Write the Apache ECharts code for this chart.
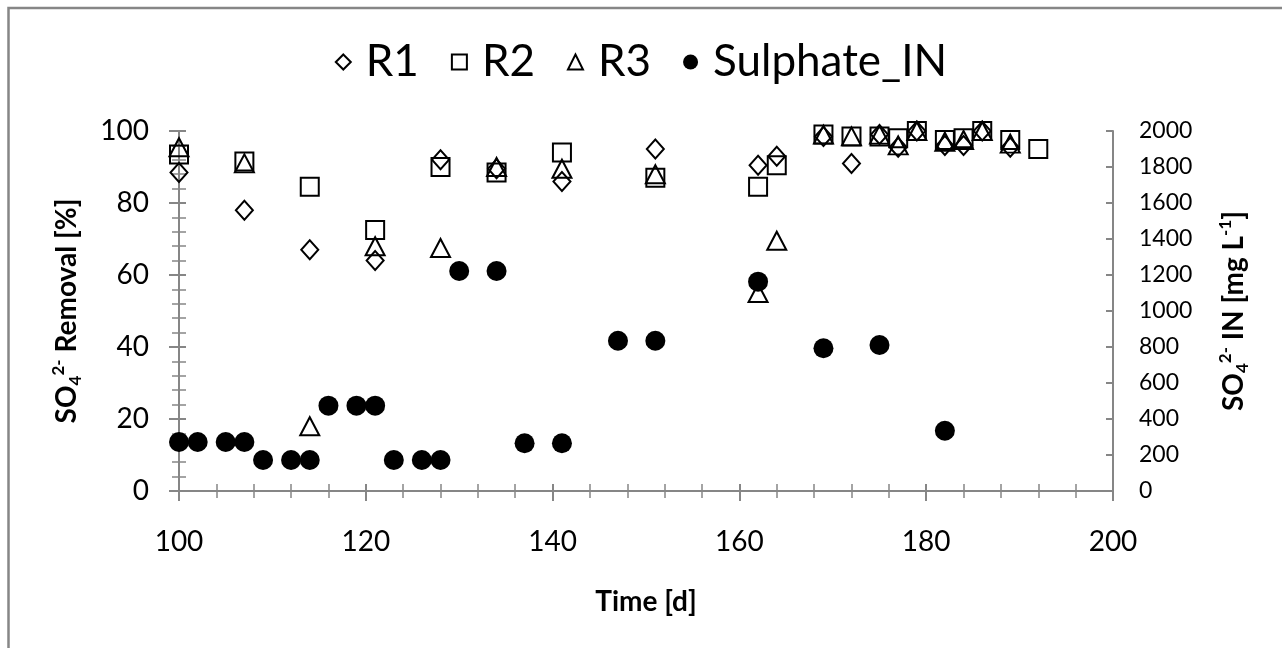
<!DOCTYPE html>
<html>
<head>
<meta charset="utf-8">
<script src="https://cdn.jsdelivr.net/npm/echarts@6/dist/echarts.min.js"></script>
<style>
html,body{margin:0;padding:0;background:#fff;}
#chart{width:1282px;height:648px;}
</style>
</head>
<body>
<div id="chart"></div>
<script>
// Reactor sampling days (R1, R3) and R2 (one extra day)
const daysR = [100,107,114,121,128,134,141,151,162,164,169,172,175,177,179,182,184,186,189];
const daysR2 = [100,107,114,121,128,134,141,151,162,164,169,172,175,177,179,182,184,186,189,192];
// SO4 removal [%]
const removalR1 = [88.5,78,67,64,92,89.5,86,95,90.5,93,98.5,91,99,95.5,100,96,96,100,95.5];
const removalR2 = [93.5,91.5,84.5,72.5,90,88.5,94,87,84.5,90.5,99,98.5,98.5,98,100,97.5,98,100,97.5,95];
const removalR3 = [95.5,91,18,68,67.5,90,89.5,88,55,69.5,99,98.5,99,96,100,97,97.5,100,96.5];
// Influent sulphate [mg/L]
const daysIN = [100,102,105,107,109,112,114,116,119,121,123,126,128,130,134,137,141,147,151,162,169,175,182];
const sulphateIN = [272,272,272,272,172,172,172,474,474,474,172,172,172,1222,1222,265,265,835,835,1163,793,811,335];

const seriesNames = ['R1','R2','R3','Sulphate_IN'];
const xTicks = {min:100, max:200, interval:20};
const yLeftTicks = {min:0, max:100, interval:20};
const yRightTicks = {min:0, max:2000, interval:200};

function pairs(xs, ys){ return xs.map((x,i)=>[x, ys[i]]); }

const FONT = 'Lato';
const axisGray = '#868686';

const chart = echarts.init(document.getElementById('chart'), null, {renderer:'canvas'});

const hollow = {color:'rgba(0,0,0,0)', borderColor:'#000', borderWidth:2, opacity:1};

const titleRich = {
  b:{fontFamily:FONT, fontSize:28, fontWeight:'bold', color:'#000', lineHeight:34},
  sub:{fontFamily:FONT, fontSize:17, fontWeight:'bold', color:'#000', lineHeight:17, verticalAlign:'bottom'},
  sup:{fontFamily:FONT, fontSize:17, fontWeight:'bold', color:'#000', lineHeight:17, verticalAlign:'top'}
};

const option = {
  animation:false,
  backgroundColor:'#fff',
  textStyle:{fontFamily:FONT},
  graphic:[{
    type:'rect', shape:{x:8.5, y:8, width:1400, height:900},
    style:{fill:'none', stroke:axisGray, lineWidth:2.5}, silent:true, z:-1
  }],
  legend:{
    data:seriesNames,
    top:35, left:'center',
    itemWidth:15, itemHeight:15, itemGap:32,
    textStyle:{fontFamily:FONT, fontSize:44, color:'#000', padding:[0,0,0,10]}
  },
  grid:{left:179, right:169, top:131, bottom:157, containLabel:false},
  xAxis:[{
    type:'value', position:'bottom', min:xTicks.min, max:xTicks.max, interval:xTicks.interval,
    axisLine:{onZero:false, lineStyle:{color:axisGray, width:2}},
    axisTick:{show:true, inside:false, length:10, lineStyle:{color:axisGray, width:2}},
    minorTick:{show:true, splitNumber:5, length:7, lineStyle:{color:axisGray, width:1.5}},
    splitLine:{show:false},
    axisLabel:{fontFamily:FONT, fontSize:28, color:'#000', margin:37},
    name:'Time [d]', nameLocation:'middle', nameGap:97,
    nameTextStyle:{fontFamily:FONT, fontSize:28, fontWeight:'bold', color:'#000'}
  },{
    type:'value', position:'bottom', min:xTicks.min, max:xTicks.max, interval:xTicks.interval,
    axisLine:{onZero:false, lineStyle:{color:axisGray, width:2}},
    axisTick:{show:true, inside:true, length:7, lineStyle:{color:axisGray, width:2}},
    minorTick:{show:true, splitNumber:5, length:7, lineStyle:{color:axisGray, width:1.5}},
    splitLine:{show:false}, axisLabel:{show:false}
  }],
  yAxis:[{
    type:'value', position:'left', min:yLeftTicks.min, max:yLeftTicks.max, interval:yLeftTicks.interval,
    axisLine:{show:true, lineStyle:{color:axisGray, width:2}},
    axisTick:{show:true, inside:false, length:10, lineStyle:{color:axisGray, width:2}},
    minorTick:{show:true, splitNumber:5, length:7, lineStyle:{color:axisGray, width:1.5}},
    splitLine:{show:false},
    axisLabel:{fontFamily:FONT, fontSize:28, color:'#000', margin:30},
    name:'{b|SO}{sub|4}{sup|2-}{b| Removal [%]}',
    nameLocation:'middle', nameRotate:90, nameGap:95,
    nameTextStyle:{rich:titleRich}
  },{
    type:'value', position:'right', min:yRightTicks.min, max:yRightTicks.max, interval:yRightTicks.interval,
    axisLine:{show:true, lineStyle:{color:axisGray, width:2}},
    axisTick:{show:true, inside:true, length:7, lineStyle:{color:axisGray, width:2}},
    splitLine:{show:false},
    axisLabel:{fontFamily:FONT, fontSize:23, color:'#000', margin:26, formatter:(v)=>String(v)},
    name:'{b|SO}{sub|4}{sup|2-}{b| IN [mg L}{sup|-1}{b|]}',
    nameLocation:'middle', nameRotate:90, nameGap:104,
    nameTextStyle:{rich:titleRich}
  },{
    type:'value', position:'left', min:yLeftTicks.min, max:yLeftTicks.max, interval:yLeftTicks.interval,
    axisLine:{show:true, lineStyle:{color:axisGray, width:2}},
    axisTick:{show:true, inside:true, length:7, lineStyle:{color:axisGray, width:2}},
    minorTick:{show:true, splitNumber:5, length:7, lineStyle:{color:axisGray, width:1.5}},
    splitLine:{show:false}, axisLabel:{show:false}
  }],
  series:[{
    name:'R1', type:'scatter', xAxisIndex:0, yAxisIndex:0,
    symbol:'diamond', symbolSize:[17,19],
    itemStyle:hollow, data:pairs(daysR, removalR1), z:3
  },{
    name:'R2', type:'scatter', xAxisIndex:0, yAxisIndex:0,
    symbol:'rect', symbolSize:[18,18],
    itemStyle:hollow, data:pairs(daysR2, removalR2), z:3
  },{
    name:'R3', type:'scatter', xAxisIndex:0, yAxisIndex:0,
    symbol:'triangle', symbolSize:[19,18],
    itemStyle:hollow, data:pairs(daysR, removalR3), z:3
  },{
    name:'Sulphate_IN', type:'scatter', xAxisIndex:0, yAxisIndex:1,
    symbol:'circle', symbolSize:20,
    itemStyle:{color:'#000', opacity:1}, data:pairs(daysIN, sulphateIN), z:4
  }]
};
chart.setOption(option);
</script>
</body>
</html>
